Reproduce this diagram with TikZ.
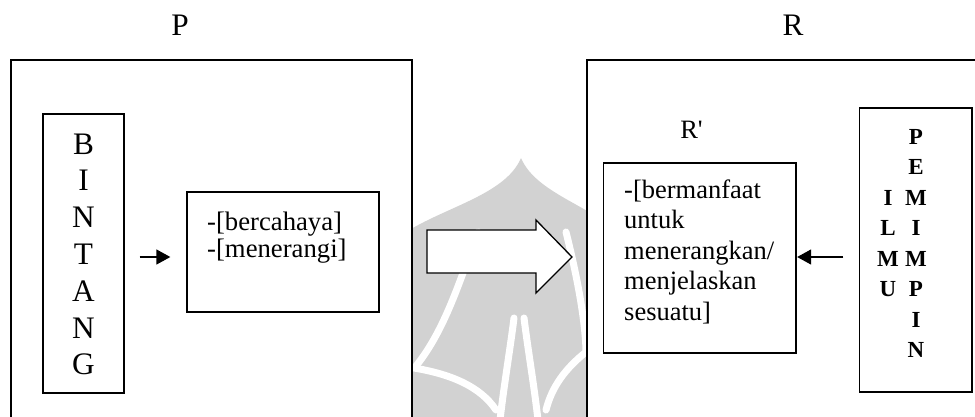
\documentclass[tikz,border=0pt]{standalone}
\usepackage{fontspec}
\setmainfont{Liberation Serif}
\usetikzlibrary{arrows.meta}

\definecolor{wmgray}{gray}{0.825}

\begin{document}
\begin{tikzpicture}[x=1pt,y=-1pt,
  frame/.style={draw=black, line width=1.3pt, fill=white, inner sep=0pt},
  box/.style={draw=black, line width=1.3pt, fill=white, inner sep=0pt},
  bigtext/.style={font=\fontsize{31.3}{36.8}\selectfont, inner sep=0pt},
  bodytext/.style={font=\fontsize{26.5}{30.5}\selectfont, inner sep=0pt},
  boldcol/.style={font=\fontsize{23}{30.57}\selectfont\bfseries, inner sep=0pt},
  link/.style={line width=1.3pt, -{Triangle[length=14pt,width=15pt]}},
  hollow/.style={draw=black, line width=1.3pt, fill=white, line join=miter},
  wmstripe/.style={draw=white, line width=7pt, line cap=round}
]
\useasboundingbox (0,0) rectangle (975,416);
\clip (0,0) rectangle (975,416);

% faint emblem in the background
\fill[wmgray] (400,236) .. controls (440,208) and (505,196) .. (521,158)
  .. controls (537,196) and (602,208) .. (615,236) -- (615,420) -- (400,420) -- cycle;
\draw[wmstripe] (478,232) .. controls (460,280) and (445,330) .. (416,366);
\draw[wmstripe] (414,368) .. controls (450,374) and (480,386) .. (496,410);
\draw[wmstripe] (500,420) .. controls (504,385) and (510,350) .. (514,318);
\draw[wmstripe] (538,420) .. controls (534,385) and (528,350) .. (524,318);
\draw[wmstripe] (566,232) .. controls (578,280) and (585,320) .. (586,350);
\draw[wmstripe] (586,352) .. controls (566,368) and (552,386) .. (546,410);

% outer frames (they run past the lower and right borders)
\node[frame, minimum width=401pt, minimum height=380pt] (left) at (211.5,250) {};
\node[frame, minimum width=401pt, minimum height=380pt] (right) at (787.5,250) {};

% titles
\node[bigtext, anchor=base] (lblP) at (180,35) {P};
\node[bigtext, anchor=base] (lblR) at (793,35) {R};
\node[bodytext, anchor=base] (lblRp) at (691.5,138) {R\textquotesingle};

% left side
\node[box, minimum width=81pt, minimum height=279pt] (bintang) at (83.5,253.5) {};
\node[bigtext, anchor=base] (bintangtxt) at (83.5,154)
  {\begin{tabular}[t]{@{}c@{}}B\\I\\N\\T\\A\\N\\G\end{tabular}};
\node[box, minimum width=192pt, minimum height=120pt] (makna) at (283,252) {};
\node[bodytext, font=\fontsize{26.7}{27.5}\selectfont, anchor=base west] (maknatxt) at (207,230)
  {\begin{tabular}[t]{@{}l@{}}-[bercahaya]\\-[menerangi]\end{tabular}};

% right side
\node[box, minimum width=192.5pt, minimum height=190pt] (rp) at (699.75,258) {};
\node[bodytext, anchor=base west] (rptxt) at (624,198)
  {\begin{tabular}[t]{@{}l@{}}-[bermanfaat\\untuk\\menerangkan/\\menjelaskan\\sesuatu]\end{tabular}};
\node[box, minimum width=112.5pt, minimum height=284pt] (pem) at (915.75,250) {};
\node[boldcol, anchor=base] (pemtxt) at (916,144)
  {\begin{tabular}[t]{@{}c@{}}P\\E\\M\\I\\M\\P\\I\\N\end{tabular}};
\node[boldcol, anchor=base] (ilmutxt) at (888,205)
  {\begin{tabular}[t]{@{}c@{}}I\\L\\M\\U\end{tabular}};

% connectors
\draw[link, shorten <=15pt, shorten >=16pt] ([yshift=-3.5pt]bintang.east) -- ([yshift=-5pt]makna.west);
\draw[link, shorten <=15.5pt, shorten >=0.5pt] ([yshift=-7pt]pem.west) -- ([yshift=1pt]rp.east);

% block arrow between the two frames
\draw[hollow] (427,230) -- (536,230) -- (536,220) -- (572,257) -- (536,293)
  -- (536,273) -- (427,273) -- cycle;
\end{tikzpicture}
\end{document}
